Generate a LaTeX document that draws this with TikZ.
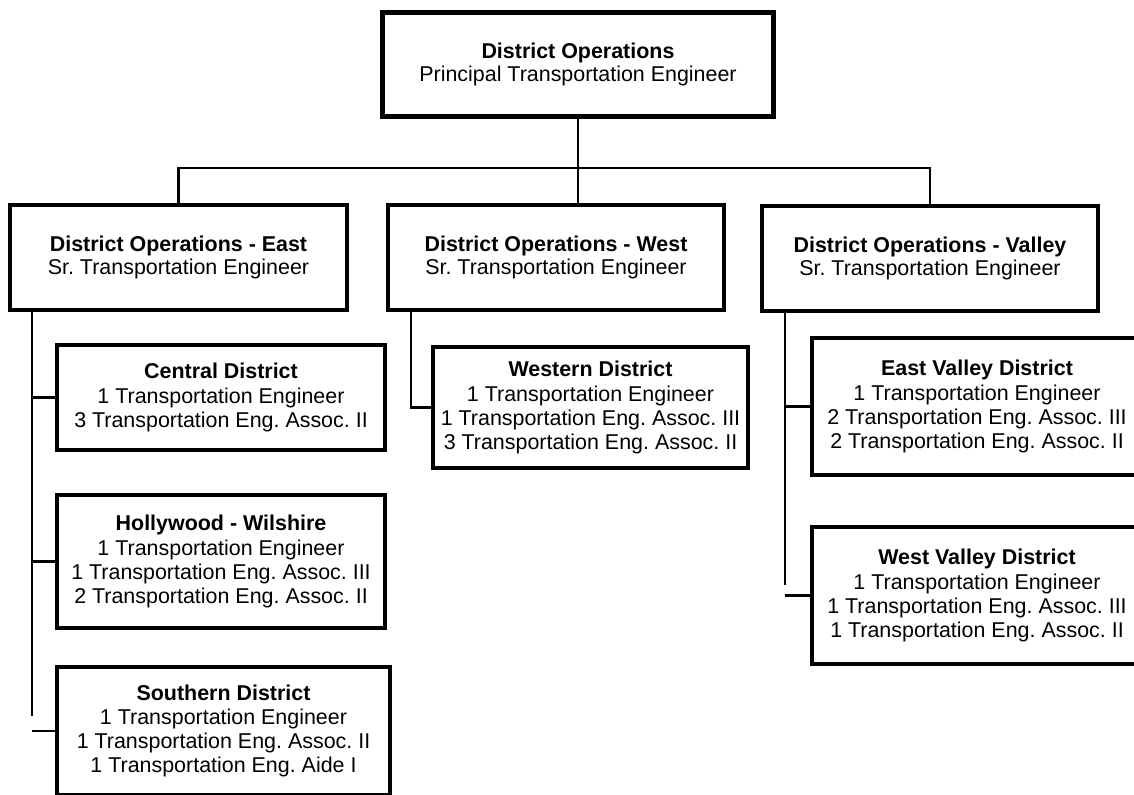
\documentclass[tikz,border=0pt]{standalone}
\usepackage{fontspec}
\setmainfont{Liberation Sans}
\usetikzlibrary{positioning}
\frenchspacing

\begin{document}
\begin{tikzpicture}[
  x=0.02cm, y=-0.02cm,
  font=\fontsize{12.2}{13.4}\selectfont,
  mgr/.style={draw=black, line width=0.09cm, align=center, inner sep=0pt,
              minimum width=6.72cm, minimum height=2.1cm},
  dist/.style={draw=black, line width=0.09cm, align=center, inner sep=0pt,
               font=\fontsize{12.2}{13.7}\selectfont},
  link/.style={draw=black, line width=0.05cm}
]
\useasboundingbox (0,0) rectangle (1134,795);

% management
\node[mgr, minimum width=7.84cm, line width=0.1cm] (top) at (578,64.5)
  {\textbf{District Operations}\\Principal Transportation Engineer};
\node[mgr, minimum width=6.74cm] (east)   at (178.5,257.5) {\textbf{District Operations - East}\\Sr. Transportation Engineer};
\node[mgr]                       (west)   at (556,257.5)   {\textbf{District Operations - West}\\Sr. Transportation Engineer};
\node[mgr]                       (valley) at (930,258.5)   {\textbf{District Operations - Valley}\\Sr. Transportation Engineer};

% districts
\node[dist, minimum width=6.56cm, minimum height=2.1cm]  (central) at (221,397.5)
  {\textbf{Central District}\\1 Transportation Engineer\\3 Transportation Eng. Assoc. II};
\node[dist, minimum width=6.56cm, minimum height=2.66cm] (hollywood) at (221,561.5)
  {\textbf{Hollywood - Wilshire}\\1 Transportation Engineer\\1 Transportation Eng. Assoc. III\\2 Transportation Eng. Assoc. II};
\node[dist, minimum width=6.66cm, minimum height=2.56cm] (southern) at (223.5,731)
  {\textbf{Southern District}\\1 Transportation Engineer\\1 Transportation Eng. Assoc. II\\1 Transportation Eng. Aide I};
\node[dist, minimum width=6.3cm, minimum height=2.42cm]  (western) at (590.5,407.5)
  {\textbf{Western District}\\1 Transportation Engineer\\1 Transportation Eng. Assoc. III\\3 Transportation Eng. Assoc. II};
\node[dist, minimum width=6.6cm, minimum height=2.74cm]  (eastvalley) at (977,406.5)
  {\textbf{East Valley District}\\1 Transportation Engineer\\2 Transportation Eng. Assoc. III\\2 Transportation Eng. Assoc. II};
\node[dist, minimum width=6.6cm, minimum height=2.74cm]  (westvalley) at (977,595.5)
  {\textbf{West Valley District}\\1 Transportation Engineer\\1 Transportation Eng. Assoc. III\\1 Transportation Eng. Assoc. II};

% top level lines
\coordinate (bus) at (578,168);
\draw[link] (top.south) -- (top.south |- west.north);
\draw[link] (east.north) |- (bus) -| (valley.north);

% east branch
\coordinate (etrunk) at (32,716);
\draw[link] (east.south -| etrunk) -- (etrunk);
\draw[link] (central.west -| etrunk) -- (central.west);
\draw[link] (hollywood.west -| etrunk) -- (hollywood.west);
\draw[link] (southern.west -| etrunk) -- (southern.west);

% west branch
\coordinate (wtrunk) at (411,310);
\draw[link] (wtrunk) |- (western.west);

% valley branch
\coordinate (vtrunk) at (785,585);
\draw[link] (valley.south -| vtrunk) -- (vtrunk);
\draw[link] (eastvalley.west -| vtrunk) -- (eastvalley.west);
\draw[link] (westvalley.west -| vtrunk) -- (westvalley.west);
\end{tikzpicture}
\end{document}
